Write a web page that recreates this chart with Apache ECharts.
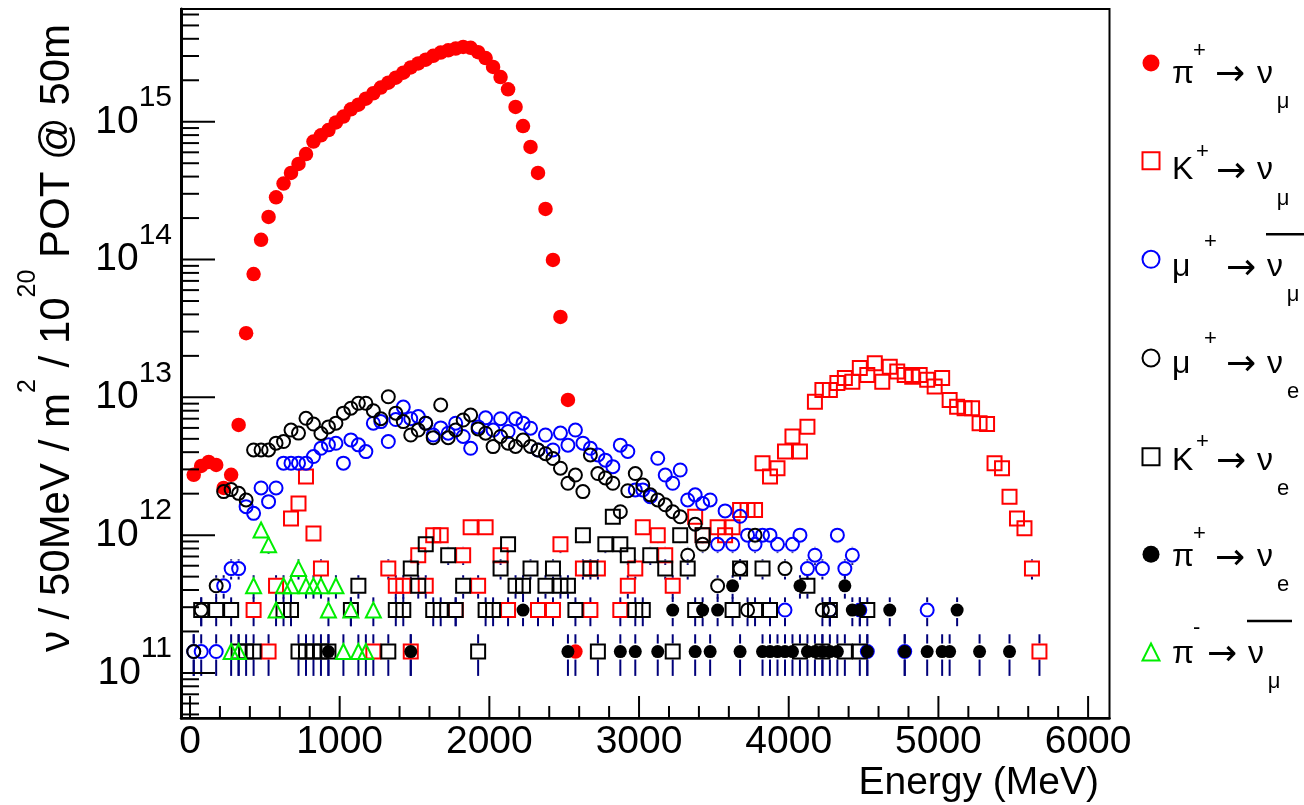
<!DOCTYPE html>
<html>
<head>
<meta charset="utf-8">
<title>Neutrino flux at 50 m by parent decay</title>
<script src="https://cdn.jsdelivr.net/npm/echarts/dist/echarts.min.js"></script>
<style>
html,body{margin:0;padding:0;background:#ffffff;}
#chart{width:1304px;height:805px;}
</style>
</head>
<body>
<div id="chart"></div>
<script>
// ---------------- DATA: [energy bin centre (MeV), ν / 50MeV / m² / 10²⁰ POT] ----------------
const piPlusNuMu = [[25,2.74e12],[75,3.18e12],[125,3.40e12],[175,3.23e12],[225,2.20e12],[275,2.74e12],[325,6.3e12],[375,2.92e13],[425,7.85e13],[475,1.39e14],[525,2.04e14],[575,2.83e14],[625,3.56e14],[675,4.25e14],[725,4.94e14],[775,5.83e14],[825,7.18e14],[875,7.98e14],[925,8.71e14],[975,9.89e14],[1025,1.09e15],[1075,1.23e15],[1125,1.33e15],[1175,1.47e15],[1225,1.61e15],[1275,1.77e15],[1325,1.92e15],[1375,2.09e15],[1425,2.27e15],[1475,2.48e15],[1525,2.65e15],[1575,2.82e15],[1625,3.01e15],[1675,3.18e15],[1725,3.30e15],[1775,3.40e15],[1825,3.49e15],[1875,3.44e15],[1925,3.20e15],[1975,2.90e15],[2025,2.50e15],[2075,2.11e15],[2125,1.72e15],[2175,1.28e15],[2225,9.31e14],[2275,6.56e14],[2325,4.25e14],[2375,2.33e14],[2425,9.93e13],[2475,3.83e13],[2525,9.57e12],[2575,1.43e11]];

const kPlusNuMu = [[425,2.86e11],[525,1.43e11],[575,4.29e11],[675,1.32e12],[725,1.70e12],[775,2.66e12],[825,1.03e12],[875,5.72e11],[1225,1.43e11],[1325,5.72e11],[1375,4.29e11],[1425,4.29e11],[1475,1.43e11],[1525,7.15e11],[1575,4.29e11],[1625,1.00e12],[1675,1.00e12],[1775,2.86e11],[1825,7.15e11],[1875,1.14e12],[1925,4.29e11],[1975,1.14e12],[2075,7.15e11],[2125,2.86e11],[2325,2.86e11],[2425,2.86e11],[2475,8.58e11],[2625,5.72e11],[2675,2.86e11],[2725,5.72e11],[2875,2.86e11],[2925,4.29e11],[2975,5.72e11],[3025,1.14e12],[3125,1.00e12],[3175,7.15e11],[3225,4.29e11],[3375,1.36e12],[3425,1.00e12],[3525,1.14e12],[3575,1.00e12],[3625,1.14e12],[3675,1.52e12],[3725,1.52e12],[3775,1.52e12],[3825,3.33e12],[3875,2.66e12],[3925,3.06e12],[3975,4.04e12],[4025,5.19e12],[4075,4.04e12],[4125,6.12e12],[4175,9.31e12],[4225,1.13e13],[4275,1.13e13],[4325,1.27e13],[4375,1.38e13],[4425,1.30e13],[4475,1.63e13],[4525,1.45e13],[4575,1.77e13],[4625,1.30e13],[4675,1.67e13],[4725,1.54e13],[4775,1.45e13],[4825,1.41e13],[4875,1.45e13],[4925,1.34e13],[4975,1.20e13],[5025,1.38e13],[5075,9.57e12],[5125,8.56e12],[5175,8.33e12],[5225,8.33e12],[5275,6.49e12],[5325,6.41e12],[5375,3.33e12],[5425,3.06e12],[5475,1.90e12],[5525,1.32e12],[5575,1.12e12],[5625,5.72e11],[5675,1.43e11]];

const muPlusNuMuBar = [[25,1.43e11],[75,1.43e11],[175,1.43e11],[225,4.29e11],[275,5.72e11],[325,5.72e11],[375,1.61e12],[425,1.44e12],[475,2.2e12],[525,1.75e12],[575,2.2e12],[625,3.33e12],[675,3.33e12],[725,3.33e12],[775,3.33e12],[825,3.72e12],[875,4.27e12],[925,4.52e12],[975,4.64e12],[1025,3.33e12],[1075,4.91e12],[1125,4.52e12],[1175,4.04e12],[1225,6.49e12],[1275,6.67e12],[1325,4.78e12],[1375,6.9e12],[1425,8.5e12],[1475,7.0e12],[1525,7.25e12],[1575,6.49e12],[1625,5.33e12],[1675,6.0e12],[1725,5.49e12],[1775,6.49e12],[1825,5.2e12],[1875,4.27e12],[1925,6.1e12],[1975,7.1e12],[2025,5.79e12],[2075,7.0e12],[2125,5.65e12],[2175,7.0e12],[2225,6.5e12],[2275,5.97e12],[2325,4.15e12],[2375,5.33e12],[2425,4.15e12],[2475,5.5e12],[2525,4.5e12],[2575,5.79e12],[2625,4.65e12],[2675,4.27e12],[2725,3.82e12],[2775,3.5e12],[2825,3.14e12],[2875,4.5e12],[2925,4.05e12],[2975,2.13e12],[3025,2.13e12],[3075,1.9e12],[3125,3.61e12],[3175,2.73e12],[3225,2.38e12],[3275,2.97e12],[3325,1.80e12],[3375,1.96e12],[3425,1.7e12],[3475,1.80e12],[3525,8.58e11],[3575,1.5e12],[3625,8.58e11],[3675,1.37e12],[3725,1.0e12],[3775,8.58e11],[3825,1.0e12],[3875,1.0e12],[3925,8.58e11],[3975,2.86e11],[4025,8.58e11],[4075,1.0e12],[4125,5.72e11],[4175,7.15e11],[4225,5.72e11],[4275,2.86e11],[4325,1.0e12],[4375,5.72e11],[4425,7.15e11],[4475,2.86e11],[4525,1.43e11],[4775,1.43e11],[4925,2.86e11]];

const muPlusNuE = [[25,1.43e11],[75,2.86e11],[175,4.29e11],[225,2.07e12],[275,2.14e12],[325,2.01e12],[375,1.80e12],[425,4.15e12],[475,4.15e12],[525,4.15e12],[575,4.65e12],[625,4.78e12],[675,5.79e12],[725,5.5e12],[775,7.05e12],[825,6.4e12],[875,5.47e12],[925,6.1e12],[975,6.5e12],[1025,7.68e12],[1075,8.34e12],[1125,9.06e12],[1175,9.06e12],[1225,8.0e12],[1275,7.0e12],[1325,1.01e13],[1375,7.68e12],[1425,6.67e12],[1475,5.33e12],[1525,5.79e12],[1575,6.49e12],[1625,5.1e12],[1675,8.81e12],[1725,5.1e12],[1775,5.8e12],[1825,6.85e12],[1875,7.45e12],[1925,5.9e12],[1975,5.49e12],[2025,4.39e12],[2075,5.2e12],[2125,4.65e12],[2175,4.4e12],[2225,4.9e12],[2275,4.4e12],[2325,4.15e12],[2375,3.9e12],[2425,3.6e12],[2475,3.06e12],[2525,2.38e12],[2575,2.73e12],[2625,2.07e12],[2675,3.82e12],[2725,2.8e12],[2775,2.6e12],[2825,2.38e12],[2875,1.48e12],[2925,2.1e12],[2975,2.8e12],[3025,2.31e12],[3075,1.96e12],[3125,1.80e12],[3175,1.66e12],[3225,1.48e12],[3275,1.36e12],[3325,7.15e11],[3375,1.2e12],[3425,8.58e11],[3525,4.29e11],[3675,5.72e11],[3725,2.86e11],[3775,1.0e12],[3975,5.72e11],[4225,2.86e11],[4275,2.86e11]];

const kPlusNuE = [[75,2.86e11],[175,2.86e11],[275,2.86e11],[325,1.43e11],[375,1.43e11],[425,1.43e11],[625,2.86e11],[675,2.86e11],[725,1.43e11],[775,1.43e11],[825,1.43e11],[875,1.43e11],[925,1.43e11],[1075,2.86e11],[1125,4.29e11],[1325,1.43e11],[1375,2.86e11],[1425,2.86e11],[1475,5.72e11],[1525,4.29e11],[1575,8.58e11],[1625,2.86e11],[1675,2.86e11],[1725,7.15e11],[1775,2.86e11],[1825,4.29e11],[1925,1.43e11],[1975,2.86e11],[2025,2.86e11],[2075,5.72e11],[2125,8.58e11],[2175,4.29e11],[2225,4.29e11],[2275,5.72e11],[2375,4.29e11],[2425,5.72e11],[2475,4.29e11],[2525,4.29e11],[2575,2.86e11],[2625,1.00e12],[2675,5.72e11],[2725,1.43e11],[2775,8.58e11],[2825,1.36e12],[2875,8.58e11],[2925,7.15e11],[2975,2.86e11],[3025,2.86e11],[3075,7.15e11],[3175,5.72e11],[3225,1.43e11],[3275,1.00e12],[3325,5.72e11],[3375,2.86e11],[3425,1.00e12],[3625,2.86e11],[3675,5.72e11],[3775,2.86e11],[3825,5.72e11],[3875,2.86e11],[4075,1.43e11],[4125,4.29e11],[4225,1.43e11],[4275,2.86e11],[4375,1.43e11],[4475,1.43e11],[4525,2.86e11]];

const piPlusNuE = [[925,1.43e11],[1475,1.43e11],[2225,2.86e11],[2525,1.43e11],[2875,1.43e11],[2975,1.43e11],[3125,1.43e11],[3225,2.86e11],[3375,1.43e11],[3425,2.86e11],[3475,1.43e11],[3525,2.86e11],[3625,4.29e11],[3675,1.43e11],[3825,1.43e11],[3875,1.43e11],[3925,1.43e11],[3975,1.43e11],[4025,1.43e11],[4075,4.29e11],[4125,1.43e11],[4175,1.43e11],[4225,1.43e11],[4275,1.43e11],[4325,1.43e11],[4375,4.29e11],[4425,2.86e11],[4475,2.86e11],[4525,1.43e11],[4675,2.86e11],[4775,1.43e11],[4925,1.43e11],[5025,1.43e11],[5075,1.43e11],[5125,2.86e11],[5275,1.43e11],[5475,1.43e11]];

const piMinusNuMuBar = [[275,1.43e11],[325,1.43e11],[425,4.29e11],[475,1.09e12],[525,8.5e11],[575,2.86e11],[625,4.29e11],[675,4.29e11],[725,5.72e11],[775,4.29e11],[825,4.29e11],[875,4.29e11],[925,2.86e11],[975,4.29e11],[1025,1.43e11],[1075,2.86e11],[1125,1.43e11],[1175,1.43e11],[1225,2.86e11]];

const seriesNames = ['π+ → νμ', 'K+ → νμ', 'μ+ → anti-νμ', 'μ+ → νe', 'K+ → νe', 'π+ → νe', 'π- → anti-νμ'];
const xTickLabels = [0, 1000, 2000, 3000, 4000, 5000, 6000];
const yDecadeExponents = [11, 12, 13, 14, 15];
const energyRange = [-60, 6143];
const fluxRange = [4.71e10, 6.58e15];
const eventWeight = 1.6e10; // statistical error per bin: sqrt(value * eventWeight)

// ---------------- STYLE / LAYOUT ----------------
const FONT = 'Liberation Sans, Arial, Helvetica, sans-serif';
const styles = [
  {symbol: 'circle',   size: 14.5, color: '#ff0000', filled: true},
  {symbol: 'rect',     size: 14, color: '#ff0000', filled: false},
  {symbol: 'circle',   size: 13, color: '#0000ff', filled: false},
  {symbol: 'circle',   size: 13, color: '#000000', filled: false},
  {symbol: 'rect',     size: 14, color: '#000000', filled: false},
  {symbol: 'circle',   size: 13, color: '#000000', filled: true},
  {symbol: 'triangle', size: 15, color: '#00ee00', filled: false}
];
const datasets = [piPlusNuMu, kPlusNuMu, muPlusNuMuBar, muPlusNuE, kPlusNuE, piPlusNuE, piMinusNuMuBar];

// tick marks (ROOT style: 2..9 minor ticks on log axis, 200 MeV minor on x)
const xTickData = [];
for (let e = 0; e <= 6000; e += 200) xTickData.push([e, fluxRange[0], e % 1000 === 0 ? 1 : 0]);
const yTickData = [];
for (let p = 10; p <= 15; p++) {
  for (let m = 1; m <= 9; m++) {
    const v = m * Math.pow(10, p);
    if (v >= fluxRange[0] && v <= fluxRange[1]) yTickData.push([energyRange[0], v, m === 1 ? 1 : 0]);
  }
}

const series = [];
datasets.forEach((data, i) => {
  const st = styles[i];
  series.push({
    type: 'scatter', name: seriesNames[i], data: data, z: 3, silent: true,
    symbol: st.symbol, symbolSize: st.size,
    itemStyle: {
      color: st.filled ? st.color : 'rgba(0,0,0,0)',
      borderColor: st.color, borderWidth: st.filled ? 0 : 2, opacity: 1
    },
    emphasis: {disabled: true}
  });
  series.push({
    type: 'custom', name: seriesNames[i], data: data, z: 2, silent: true,
    coordinateSystem: 'cartesian2d', encode: {x: 0, y: 1},
    renderItem: function (params, api) {
      const x = api.value(0), v = api.value(1);
      const err = Math.sqrt(v * eventWeight);
      const c = api.coord([x, v]);
      const t = api.coord([x, v + err]);
      const b = api.coord([x, Math.max(v - err, 1)]);
      const gap = 8;
      const children = [];
      const ls = {stroke: '#00007a', lineWidth: 2};
      if (c[1] - gap > t[1]) children.push({type: 'line', shape: {x1: c[0], y1: t[1], x2: c[0], y2: c[1] - gap}, style: ls});
      if (b[1] > c[1] + gap) children.push({type: 'line', shape: {x1: c[0], y1: c[1] + gap, x2: c[0], y2: b[1]}, style: ls});
      return {type: 'group', children: children};
    }
  });
});
series.push({
  type: 'custom', name: '__xticks', data: xTickData, z: 6, silent: true,
  coordinateSystem: 'cartesian2d', encode: {x: 0, y: 1},
  renderItem: function (params, api) {
    const p = api.coord([api.value(0), api.value(1)]);
    const len = api.value(2) ? 22 : 12;
    return {type: 'line', shape: {x1: p[0], y1: p[1], x2: p[0], y2: p[1] - len}, style: {stroke: '#000', lineWidth: 2}};
  }
});
series.push({
  type: 'custom', name: '__yticks', data: yTickData, z: 6, silent: true,
  coordinateSystem: 'cartesian2d', encode: {x: 0, y: 1},
  renderItem: function (params, api) {
    const p = api.coord([api.value(0), api.value(1)]);
    const len = api.value(2) ? 34 : 18;
    return {type: 'line', shape: {x1: p[0], y1: p[1], x2: p[0] + len, y2: p[1]}, style: {stroke: '#000', lineWidth: 2}};
  }
});

// ---------------- LEGEND TEXT (TLatex-like) ----------------
const legendTop = 54.5, legendItem = 17, legendGap = 79.67;
const legendTokens = [
  {parent: 'π', charge: '+', lepton: 'μ', bar: false},
  {parent: 'K', charge: '+', lepton: 'μ', bar: false},
  {parent: 'μ', charge: '+', lepton: 'μ', bar: true},
  {parent: 'μ', charge: '+', lepton: 'e', bar: false},
  {parent: 'K', charge: '+', lepton: 'e', bar: false},
  {parent: 'π', charge: '+', lepton: 'e', bar: false},
  {parent: 'π', charge: '-', lepton: 'μ', bar: true}
];
const layoutFor = function (tok) {
  if (tok.parent === 'K') return {sup: 1196, supDy: -8, arrow: 1216, nu: 1257, sub: 1283};
  if (tok.parent === 'μ') return {sup: 1204, supDy: -14, arrow: 1226, nu: 1267, sub: 1293};
  if (tok.charge === '-') return {sup: 1193, supDy: -15, arrow: 1207, nu: 1248, sub: 1274};
  return {sup: 1193, supDy: -12, arrow: 1215, nu: 1257, sub: 1283};
};
const graphics = [];
legendTokens.forEach((tok, i) => {
  const cy = legendTop + i * (legendItem + legendGap) + legendItem / 2;
  const L = layoutFor(tok);
  const txt = (s, x, y, font, align) => ({
    type: 'text', x: x, y: y, silent: true,
    style: {text: s, font: font, fill: '#000', align: align || 'left', verticalAlign: 'middle'}
  });
  graphics.push(txt(tok.parent, 1172, cy + 11, '32px ' + FONT));
  graphics.push(txt(tok.charge, L.sup, cy + L.supDy, '22px ' + FONT));
  graphics.push(txt('→', L.arrow, cy + 13, '36px DejaVu Sans, sans-serif'));
  graphics.push(txt('ν', L.nu, cy + 11, '32px ' + FONT));
  graphics.push(txt(tok.lepton, L.sub, cy + 39, '22px ' + FONT, 'center'));
  if (tok.bar) {
    graphics.push({type: 'line', silent: true, shape: {x1: L.nu - 1, y1: cy - 22, x2: L.nu + 44, y2: cy - 22}, style: {stroke: '#000', lineWidth: 2.5}});
  }
});
// axis titles
graphics.push({
  type: 'text', x: 57, y: 338, rotation: Math.PI / 2, silent: true,
  style: {
    text: '{t|ν / 50MeV / m}{s|2}{t| / 10}{s|20}{t| POT @ 50m}',
    align: 'center', verticalAlign: 'middle',
    rich: {
      t: {fontSize: 42, fontFamily: FONT, fill: '#000', lineHeight: 50, verticalAlign: 'middle'},
      s: {fontSize: 25, fontFamily: FONT, fill: '#000', lineHeight: 50, verticalAlign: 'middle', padding: [0, 0, 58, 0]}
    }
  }
});
graphics.push({
  type: 'text', x: 1099, y: 783, silent: true,
  style: {text: 'Energy (MeV)', font: '39px ' + FONT, fill: '#000', align: 'right', verticalAlign: 'middle'}
});

// ---------------- CHART ----------------
const chart = echarts.init(document.getElementById('chart'), null, {renderer: 'canvas', width: 1304, height: 805});
chart.setOption({
  animation: false,
  backgroundColor: '#ffffff',
  grid: {left: 181, top: 9, right: 194.5, bottom: 87, show: true, borderColor: '#000', borderWidth: 2, backgroundColor: 'transparent', containLabel: false, outerBoundsMode: 'none'},
  legend: {
    data: seriesNames, orient: 'vertical', left: 1141.5, top: legendTop, padding: 0,
    itemWidth: legendItem, itemHeight: legendItem, itemGap: legendGap, selectedMode: false,
    formatter: function () { return ''; }, textStyle: {fontSize: 8}
  },
  xAxis: {
    type: 'value', min: energyRange[0], max: energyRange[1],
    axisLine: {show: true, onZero: false, lineStyle: {color: '#000', width: 2.5}},
    axisTick: {show: false}, splitLine: {show: false}, minorTick: {show: false},
    axisLabel: {
      show: true, margin: 5, color: '#000', fontSize: 39, fontFamily: FONT, hideOverlap: false,
      showMinLabel: true, showMaxLabel: true,
      formatter: function (v) { return xTickLabels.indexOf(v) >= 0 ? String(v) : ''; }
    }
  },
  yAxis: {
    type: 'log', logBase: 10, min: fluxRange[0], max: fluxRange[1],
    axisLine: {show: true, onZero: false, lineStyle: {color: '#000', width: 3}},
    axisTick: {show: false}, splitLine: {show: false}, minorTick: {show: false},
    axisLabel: {
      show: true, margin: 9, color: '#000', hideOverlap: false,
      formatter: function (v) {
        const e = Math.log10(v), r = Math.round(e);
        return (Math.abs(e - r) < 1e-6 && yDecadeExponents.indexOf(r) >= 0) ? '{b|10}{e|' + r + '}' : '';
      },
      rich: {
        b: {fontSize: 39, fontFamily: FONT, color: '#000', lineHeight: 44, verticalAlign: 'middle'},
        e: {fontSize: 30, fontFamily: FONT, color: '#000', lineHeight: 44, verticalAlign: 'middle', padding: [0, 0, 48, 0]}
      }
    }
  },
  graphic: graphics,
  series: series
});
</script>
</body>
</html>
